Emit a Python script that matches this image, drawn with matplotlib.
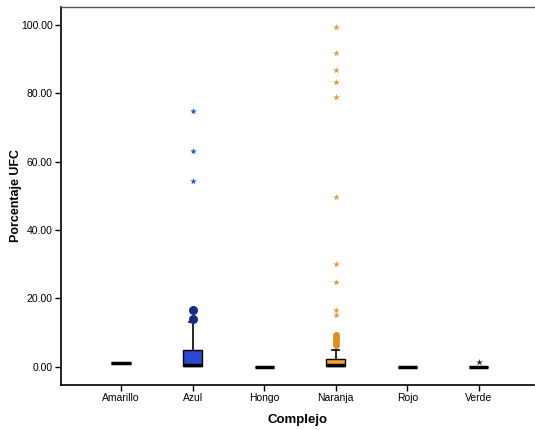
import matplotlib
matplotlib.use('Agg')
import matplotlib.pyplot as plt

plt.rcParams['font.family'] = ['Liberation Sans', 'DejaVu Sans']

# Categories and box statistics
categories = ['Amarillo', 'Azul', 'Hongo', 'Naranja', 'Rojo', 'Verde']
q1 = [1.1, 0.2, -0.2, 0.2, 0.0, -0.2]
medians = [1.1, 0.6, -0.2, 0.6, 0.0, -0.2]
q3 = [1.1, 5.0, -0.2, 2.4, 0.0, -0.2]
whis_lo = [1.1, 0.2, -0.2, 0.2, 0.0, -0.2]
whis_hi = [1.1, 13.0, -0.2, 5.0, 0.0, -0.2]

# outliers (circles) and extreme values (stars)
outliers = [[], [14.0, 16.7], [], [6.5, 7.4, 8.3, 9.3], [], []]
extremes = [[], [54.4, 63.0, 74.7], [],
            [15.2, 16.7, 24.9, 30.0, 49.8, 78.9, 83.4, 86.7, 91.9, 99.5], [], [1.3]]

box_colors = ['#f2e640', '#2a48d0', '#c8c8c8', '#f0a22c', '#d03030', '#40a040']
circle_colors = ['black', '#1a2a80', 'black', '#e0901c', 'black', 'black']
circle_sizes = [20, 30, 20, 16, 20, 20]
star_colors = ['black', '#1f5cc0', 'black', '#e89a3c', 'black', '#333333']

positions = list(range(1, len(categories) + 1))

fig = plt.figure(figsize=(5.35, 4.30), dpi=100)
ax = fig.add_axes([0.114, 0.105, 0.884, 0.879])

stats = []
for i, name in enumerate(categories):
    stats.append({'label': name, 'q1': q1[i], 'med': medians[i], 'q3': q3[i],
                  'whislo': whis_lo[i], 'whishi': whis_hi[i], 'fliers': []})

bp = ax.bxp(stats, positions=positions, widths=0.27, patch_artist=True,
            showfliers=False, capwidths=0.1,
            medianprops=dict(color='black', linewidth=2.5),
            whiskerprops=dict(color='black', linewidth=1.2),
            capprops=dict(color='black', linewidth=1.2),
            boxprops=dict(edgecolor='black', linewidth=1.0))
for patch, c in zip(bp['boxes'], box_colors):
    patch.set_facecolor(c)
# degenerate boxes: only the thick line shows
for i in range(len(categories)):
    if q1[i] == q3[i]:
        bp['caps'][2 * i].set_visible(False)
        bp['caps'][2 * i + 1].set_visible(False)

for i, pos in enumerate(positions):
    if outliers[i]:
        ax.scatter([pos] * len(outliers[i]), outliers[i], s=circle_sizes[i], marker='o',
                   color=circle_colors[i], edgecolors=circle_colors[i], zorder=3)
    if extremes[i]:
        ax.scatter([pos] * len(extremes[i]), extremes[i], s=26, marker='*',
                   color=star_colors[i], linewidths=0, zorder=3)

ax.set_xlim(0.16, 6.77)
ax.set_ylim(-5.3, 105.3)
ax.set_yticks([0, 20, 40, 60, 80, 100])
ax.set_yticklabels([f"{v:.2f}" for v in [0, 20, 40, 60, 80, 100]], fontsize=7.5)
ax.set_xticks(positions)
ax.set_xticklabels(categories, fontsize=7.5)
ax.tick_params(direction='out', length=4, width=1, pad=2)

ax.set_ylabel('Porcentaje UFC', fontsize=9, fontweight='bold')
ax.yaxis.set_label_coords(-0.082, 0.5)
ax.set_xlabel('Complejo', fontsize=9.5, fontweight='bold', labelpad=8)

for s in ['left', 'bottom']:
    ax.spines[s].set_linewidth(1.2)
ax.spines['top'].set_linewidth(1.0)
ax.spines['top'].set_color('#555555')
ax.spines['right'].set_visible(False)

fig.savefig('out.png', dpi=100)
